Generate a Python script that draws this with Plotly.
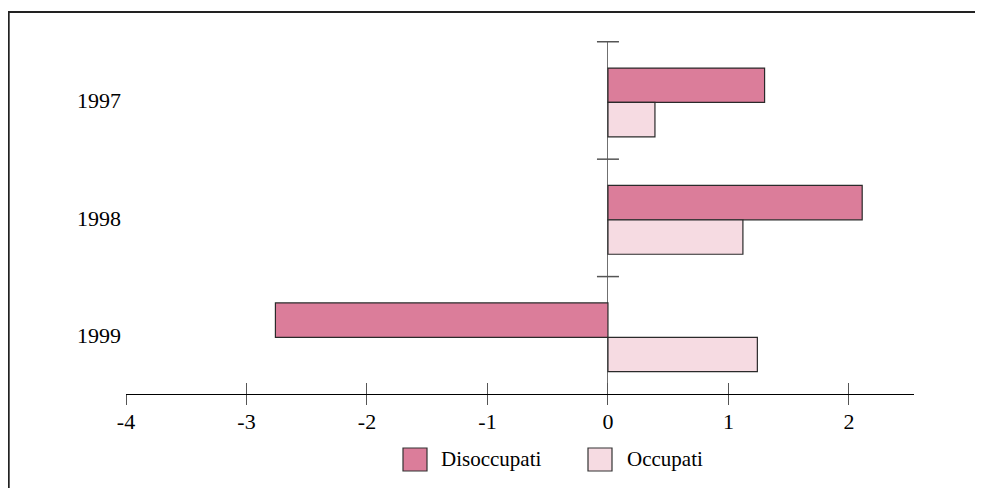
import plotly.graph_objects as go

years = ["1997", "1998", "1999"]
series_names = ["Disoccupati", "Occupati"]
disoccupati = [1.30, 2.11, -2.76]
occupati = [0.39, 1.12, 1.24]
x_ticks = [-4, -3, -2, -1, 0, 1, 2]

OFF = 8
W, H = 983 - OFF, 488 - OFF
L, R, T, B = 126 - OFF, 914 - OFF, 41 - OFF, 394 - OFF
PW, PH = R - L, B - T

def px(x):
    return (x - OFF - L) / PW

def py(y):
    return (B - (y - OFF)) / PH

dark = "#DB7D9A"
light = "#F6DBE2"
edge = "#2a2a2a"
font = dict(family="Liberation Serif, Times New Roman, serif", size=22, color="black")
legend_font = dict(family="Liberation Serif, Times New Roman, serif", size=21, color="black")

fig = go.Figure()
fig.add_trace(go.Bar(name=series_names[0], y=years, x=disoccupati, orientation="h",
                     width=0.293, offset=-0.276,
                     marker=dict(color=dark, line=dict(color=edge, width=1.2))))
fig.add_trace(go.Bar(name=series_names[1], y=years, x=occupati, orientation="h",
                     width=0.293, offset=0.017,
                     marker=dict(color=light, line=dict(color=edge, width=1.2))))
fig.add_trace(go.Scatter(x=[0], y=[years[0]], xaxis="x2", mode="markers",
                         marker=dict(opacity=0), showlegend=False, hoverinfo="skip"))

xr = [-4, 2.54]
fig.update_layout(
    width=W, height=H,
    margin=dict(l=L, r=W - R, t=T, b=H - B, pad=0),
    paper_bgcolor="white", plot_bgcolor="white",
    barmode="overlay",
    showlegend=False,
    font=font,
    xaxis=dict(range=xr, tickvals=x_ticks, ticktext=[str(v) for v in x_ticks],
               showgrid=False, zeroline=True, zerolinecolor="#707070", zerolinewidth=1.3,
               showline=True, linecolor="black", linewidth=1.2,
               ticks="outside", ticklen=10, tickwidth=1.2, tickcolor="#555555",
               tickfont=font, ticklabelstandoff=-3, fixedrange=True),
    xaxis2=dict(range=xr, overlaying="x", side="bottom", anchor="y",
                tickvals=x_ticks, showticklabels=False, showgrid=False, zeroline=False,
                showline=False, ticks="inside", ticklen=11, tickwidth=1.2, tickcolor="#555555"),
    yaxis=dict(autorange="reversed", showgrid=False, zeroline=False, showline=False,
               ticks="", tickfont=font, ticklabelstandoff=4),
)

shapes = []
for yb in [-0.5, 0.5, 1.5]:
    shapes.append(dict(type="line", xref="x", yref="y", xsizemode="pixel", xanchor=0,
                       x0=-11, x1=11, y0=yb, y1=yb, line=dict(color="#555555", width=1.5)))
# outer frame (left and top edges visible)
shapes.append(dict(type="line", xref="paper", yref="paper",
                   x0=px(8.8), x1=px(8.8), y0=py(12), y1=py(520),
                   line=dict(color="#222222", width=1.8)))
shapes.append(dict(type="line", xref="paper", yref="paper",
                   x0=px(8), x1=px(1020), y0=py(12), y1=py(12),
                   line=dict(color="#222222", width=1.8)))
annotations = []
legend_items = [(series_names[0], dark, 403, 439), (series_names[1], light, 588, 625)]
for name, col, bx, tx in legend_items:
    shapes.append(dict(type="rect", xref="paper", yref="paper",
                       x0=px(bx), x1=px(bx + 24), y0=py(471), y1=py(448),
                       fillcolor=col, line=dict(color="#333333", width=1.2)))
    annotations.append(dict(xref="paper", yref="paper", x=px(tx), y=py(459.5),
                            xanchor="left", yanchor="middle", text=name, showarrow=False,
                            font=legend_font))
fig.update_layout(shapes=shapes, annotations=annotations)

fig.write_html("out.html")
